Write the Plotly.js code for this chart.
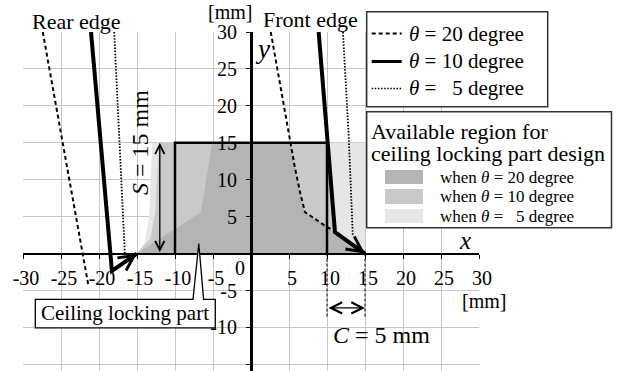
<!DOCTYPE html>
<html><head><meta charset="utf-8">
<script src="https://cdn.plot.ly/plotly-3.0.1.min.js"></script>
<style>html,body{margin:0;padding:0;background:#fff}#chart{width:628px;height:371px}</style>
</head><body><div id="chart"></div>
<script>
// ---------- data ----------
const xTickVals = [-30,-25,-20,-15,-10,-5,5,10,15,20,25,30];
const xTickText = ['-30','-25','-20','-15','-10','-5','5','10','15','20','25','30'];
const yTickVals = [-15,-10,-5,5,10,15,20,25,30];
const yTickText = ['','-10','-5','5','10','15','20','25','30'];

// edge lines (rear / front) for each tilt angle
const rear20X = [-27.4, -21.4];            const rear20Y = [30, -4.3];
const rear10X = [-21.05, -18.3, -15.0];    const rear10Y = [30, -2.35, 0];
const rear5X  = [-18.0, -16.6];            const rear5Y  = [30, 0];
const front20X = [2.6, 5.2, 5.8, 6.5, 7.1, 8.7, 10.0, 10.9];
const front20Y = [30, 15, 11.5, 8.1, 5.6, 4.5, 3.6, 3.1];
const front10X = [8.9, 11.05, 15.0];       const front10Y = [30, 2.9, 0];
const front5X  = [12.1, 12.85, 13.4];      const front5Y  = [30, 16, 2.3];

// available regions
const reg5X  = [-15, -14.0, -13.4, -13.0, 15, 15];
const reg5Y  = [0, 1.5, 5, 15, 15, 0];
const reg10X = [-15, -13.25, -12.6, -12.1, 10.1, 11.05, 15];
const reg10Y = [0, 2.0, 5.6, 15, 15, 2.9, 0];
const reg20X = [-15, -6.6, -6.2, -5.1, 5.2, 5.8, 6.5, 7.1, 8.7, 10.0, 10.6, 15];
const reg20Y = [0, 5.6, 8.0, 15, 15, 11.5, 8.1, 5.6, 4.5, 3.6, 3.0, 0];

// ceiling locking part (S x width), clearance C
const partX = [-10, -10, 10, 10];
const partY = [0, 15, 15, 0];
const S_val = 15, C_from = 10, C_to = 15;

const legendLabels = ['<i>θ</i> = 20 degree', '<i>θ</i> = 10 degree', '<i>θ</i> = \u00a0\u00a05 degree'];
const regionLabels = ['when <i>θ</i> = 20 degree', 'when <i>θ</i> = 10 degree', 'when <i>θ</i> = \u00a0\u00a05 degree'];
const regionColors = ['#b4b4b4', '#c9c9c9', '#e6e6e6'];

// ---------- layout helpers ----------
const W = 628, H = 371, M = {l:23, r:149, t:32, b:0};
const PW = W - M.l - M.r, PH = H - M.t - M.b;
const PX = p => (p - M.l) / PW;
const PY = p => (H - M.b - p) / PH;
const FONT = 'Liberation Serif';
const K = '#000';
const yMin = -15.9, yMax = 30;

const dash20 = '4px,3px', dot5 = '1.5px,1.6px';

const traces = [
  {x: reg5X, y: reg5Y, fill: 'toself', fillcolor: regionColors[2], line: {width: 0}, mode: 'lines', hoverinfo: 'skip'},
  {x: reg10X, y: reg10Y, fill: 'toself', fillcolor: regionColors[1], line: {width: 0}, mode: 'lines', hoverinfo: 'skip'},
  {x: reg20X, y: reg20Y, fill: 'toself', fillcolor: regionColors[0], line: {width: 0}, mode: 'lines', hoverinfo: 'skip'},
  {x: partX, y: partY, mode: 'lines', line: {color: K, width: 2.5}},
  {x: rear20X, y: rear20Y, mode: 'lines', line: {color: K, width: 2, dash: dash20}},
  {x: front20X, y: front20Y, mode: 'lines', line: {color: K, width: 2, dash: dash20}},
  {x: rear5X, y: rear5Y, mode: 'lines', line: {color: K, width: 1.8, dash: dot5}},
  {x: front5X, y: front5Y, mode: 'lines', line: {color: K, width: 1.8, dash: dot5}},
  {x: rear10X, y: rear10Y, mode: 'lines', line: {color: K, width: 4}},
  {x: front10X, y: front10Y, mode: 'lines', line: {color: K, width: 4}},
];

const shapes = [];
const annotations = [];
function txt(text, cx, cy, size, opts) {
  annotations.push(Object.assign({text: text, xref: 'paper', yref: 'paper', x: PX(cx), y: PY(cy),
    xanchor: 'center', yanchor: 'middle', showarrow: false,
    font: {family: FONT, size: size, color: K}}, opts || {}));
}

// C dashed guides
[C_from, C_to].forEach(v => shapes.push({type: 'line', xref: 'x', yref: 'y', x0: v, x1: v, y0: 0, y1: -8.6,
  line: {color: K, width: 1, dash: '3px,2px'}}));

// callout box for ceiling locking part
const bx0 = -28.38, bx1 = -4.70, by0 = -6.19, by1 = -10.07;
shapes.push({type: 'path', xref: 'x', yref: 'y', layer: 'above',
  path: `M ${bx0},${by0} L -7.63,${by0} L -6.87,1.35 L -6.24,${by0} L ${bx1},${by0} L ${bx1},${by1} L ${bx0},${by1} Z`,
  fillcolor: '#fff', line: {color: K, width: 1.3}});

// legend boxes
shapes.push({type: 'rect', xref: 'paper', yref: 'paper', x0: PX(366.7), x1: PX(547.7), y0: PY(11.7), y1: PY(106.7),
  fillcolor: '#fff', line: {color: '#333', width: 1.5}, layer: 'above'});
shapes.push({type: 'rect', xref: 'paper', yref: 'paper', x0: PX(366.7), x1: PX(611.5), y0: PY(111.7), y1: PY(227.7),
  fillcolor: '#fff', line: {color: '#333', width: 1.5}, layer: 'above'});
const legRows = [33.5, 61.5, 88.5];
const legStyles = [{width: 2, dash: dash20}, {width: 3, dash: 'solid'}, {width: 1.6, dash: dot5}];
legRows.forEach((r, i) => {
  shapes.push({type: 'line', xref: 'paper', yref: 'paper', x0: PX(371.7), x1: PX(401.7), y0: PY(r), y1: PY(r),
    line: Object.assign({color: K}, legStyles[i]), layer: 'above'});
  txt(legendLabels[i], 406.7, r, 21, {xanchor: 'left'});
});
const regRows = [[170, 184], [189, 204], [209, 223]];
regRows.forEach((r, i) => {
  shapes.push({type: 'rect', xref: 'paper', yref: 'paper', x0: PX(385), x1: PX(423), y0: PY(r[0]), y1: PY(r[1]),
    fillcolor: regionColors[i], line: {width: 0}, layer: 'above'});
  txt(regionLabels[i], 438.3, (r[0] + r[1]) / 2, 17, {xanchor: 'left'});
});
txt('Available region for', 369, 131.5, 22, {xanchor: 'left'});
txt('ceiling locking part design', 369, 153, 22, {xanchor: 'left'});

// labels
txt('Rear edge', 76, 21, 22);
txt('Front edge', 310, 20, 22);
txt('[mm]', 230, 12, 20);
txt('[mm]', 484, 301, 20);
txt('<i>y</i>', 262, 49, 27);
txt('<i>x</i>', 465, 240, 25);
txt('0', 240, 268, 20);
txt('<i>S</i> = 15 mm', 140, 143, 24, {textangle: -90});
txt('<i>C</i> = 5 mm', 381.7, 335, 24);
txt('Ceiling locking part', 125, 313, 21);

// arrows
function arrow(x, y, ax, ay, w, size, head, both) {
  const a = {x: x, y: y, ax: ax, ay: ay, xref: 'x', yref: 'y', axref: 'x', ayref: 'y', text: '',
    showarrow: true, arrowhead: head, arrowwidth: w, arrowsize: size, arrowcolor: K, standoff: 0};
  if (both) { a.arrowside = 'end+start'; a.startarrowhead = head; a.startarrowsize = size; a.startstandoff = 0; }
  annotations.push(a);
}
arrow(-12, S_val, -12, 0, 1.3, 1.4, 5, true);
arrow(C_to, -7.36, C_from, -7.36, 1.3, 1.7, 5, true);
arrow(rear10X[2], rear10Y[2], rear10X[1], rear10Y[1], 1.5, 2, 5, false);
arrow(front10X[2], front10Y[2], front10X[1], front10Y[1], 1.5, 2, 5, false);

const layout = {
  width: W, height: H, margin: M, showlegend: false,
  paper_bgcolor: '#fff', plot_bgcolor: '#fff',
  font: {family: FONT, color: K},
  xaxis: {range: [-30, 30], tickvals: xTickVals, ticktext: xTickText, showgrid: true, gridcolor: '#c6c6c6', gridwidth: 1,
    zeroline: false, showline: true, linecolor: K, linewidth: 2.5, anchor: 'free', position: (0 - yMin) / (yMax - yMin),
    ticks: 'outside', ticklen: 4, tickcolor: K, tickwidth: 1, tickfont: {family: FONT, size: 20, color: K},
    ticklabelstandoff: 2, ticklabelshift: 3, automargin: false, fixedrange: true},
  yaxis: {range: [yMin, yMax], tickvals: yTickVals, ticktext: yTickText, showgrid: true, gridcolor: '#c6c6c6', gridwidth: 1,
    zeroline: false, showline: true, linecolor: K, linewidth: 2.5, anchor: 'free', position: 0.5,
    ticks: 'outside', ticklen: 4, tickcolor: K, tickwidth: 1, tickfont: {family: FONT, size: 20, color: K},
    ticklabelstandoff: 5, automargin: false, fixedrange: true},
  shapes: shapes, annotations: annotations
};
Plotly.newPlot('chart', traces, layout, {displayModeBar: false, staticPlot: true});
</script></body></html>
